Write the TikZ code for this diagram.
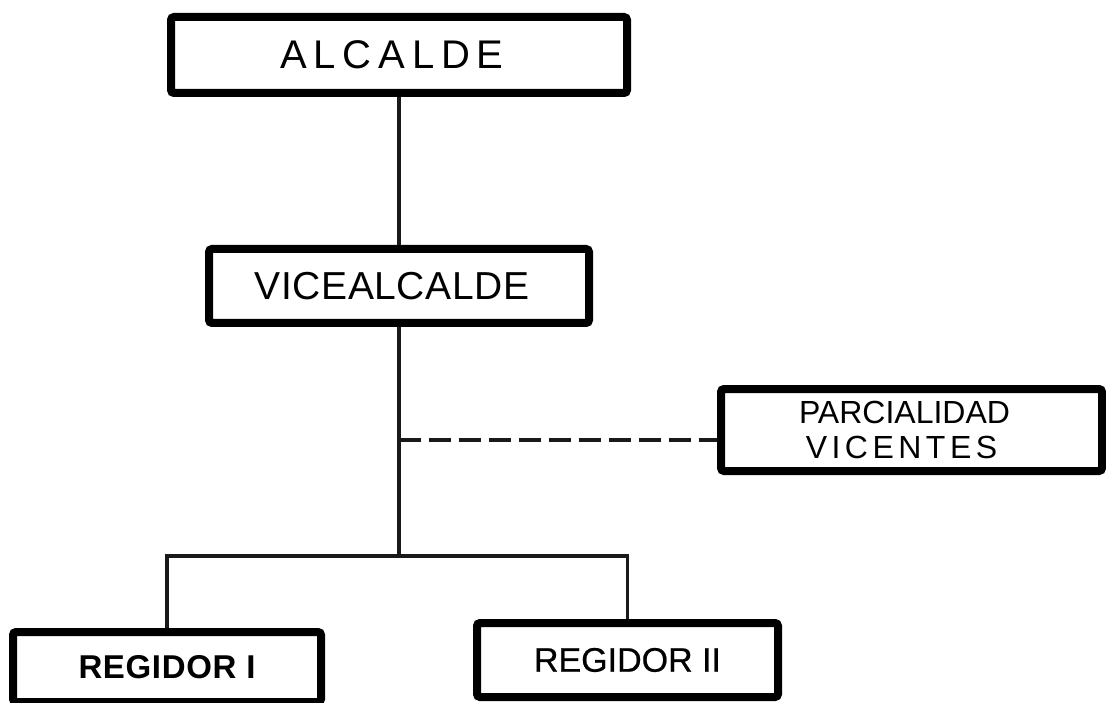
\documentclass[tikz,border=0pt]{standalone}
\usepackage{fontspec}
\setmainfont{Liberation Sans}
\begin{document}
\begin{tikzpicture}[x=1pt,y=-1pt,
  orgbox/.style={draw=black, line width=8pt, rounded corners=3pt, inner sep=0pt, fill=white},
  link/.style={draw=black!90, line width=3.5pt},
  dashlink/.style={draw=black!90, line width=4pt, dash pattern=on 22pt off 8pt},
]
\useasboundingbox (0,0) rectangle (1106,703);
\node[orgbox, minimum width=456pt, minimum height=76pt] (alc) at (399,55)
  {\fontsize{40}{48}\selectfont\addfontfeature{LetterSpace=17}ALCALDE\kern14pt};
\node[orgbox, minimum width=380pt, minimum height=74pt] (vice) at (399,286)
  {\fontsize{39}{46}\selectfont\addfontfeature{LetterSpace=1.5}VICEALCALDE\kern14pt};
\node[orgbox, minimum width=381pt, minimum height=82pt, align=center,
  font=\fontsize{32}{35}\selectfont] (parc) at (911.5,430)
  {PARCIALIDAD\kern14pt\\{\addfontfeature{LetterSpace=14}VICENTES}\kern20pt};
\node[orgbox, minimum width=308pt, minimum height=70pt] (reg1) at (167,667)
  {\fontsize{33}{40}\selectfont\bfseries\addfontfeature{LetterSpace=2}REGIDOR I};
\node[orgbox, minimum width=301pt, minimum height=74pt] (reg2) at (627.5,660)
  {\fontsize{34}{40}\selectfont\addfontfeature{FakeBold=0.6}REGIDOR II};
\coordinate (j) at (399,556);
\coordinate (d) at (399,440);
\draw[link] (alc.south) -- (vice.north);
\draw[link] (vice.south) -- (j);
\draw[link] (reg1.north) |- (j) -| (reg2.north);
\draw[dashlink] (d) -- (d -| parc.west);
\end{tikzpicture}
\end{document}
